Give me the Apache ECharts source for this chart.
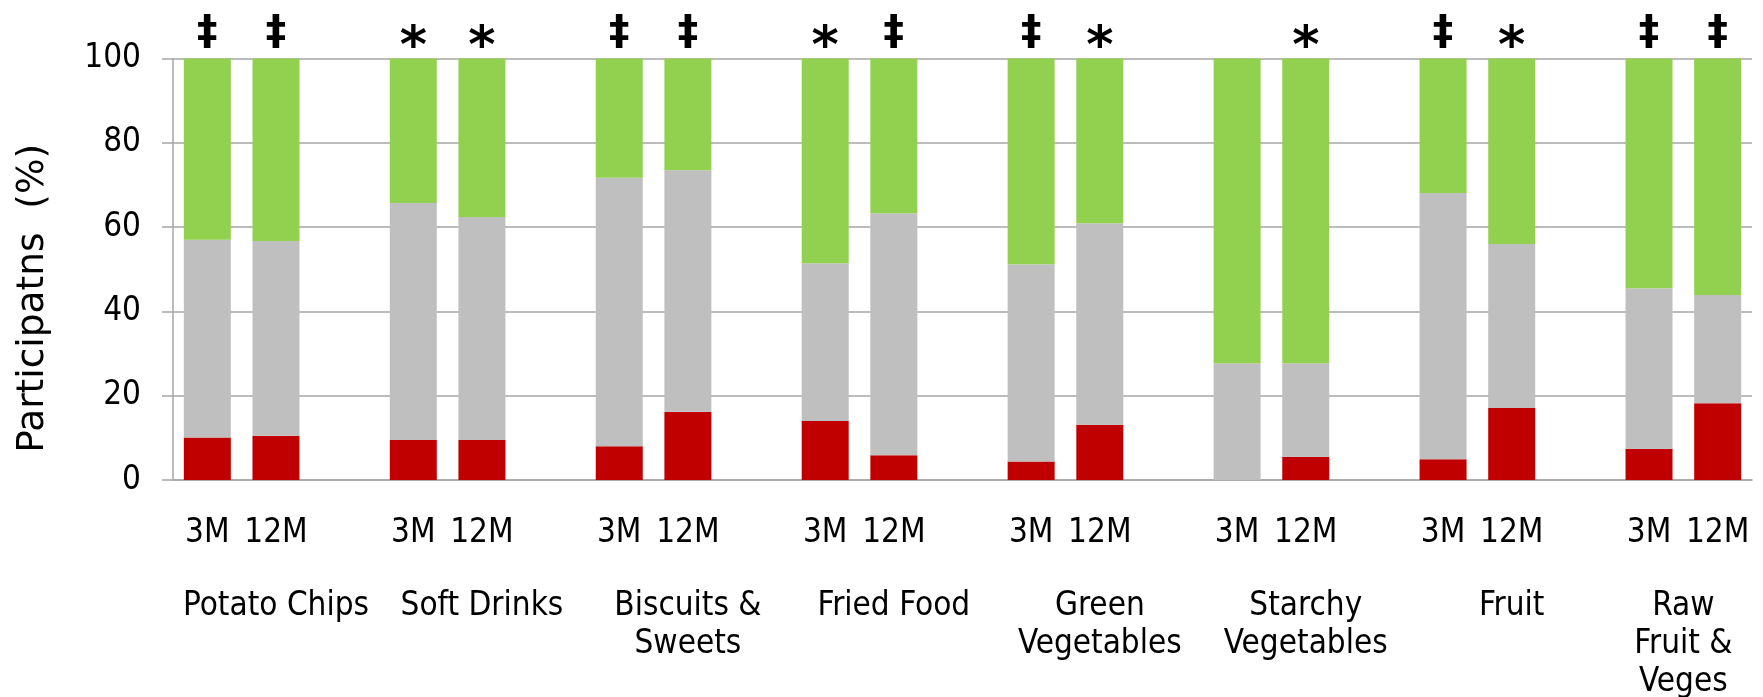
<!DOCTYPE html>
<html>
<head>
<meta charset="utf-8">
<script src="https://cdn.jsdelivr.net/npm/echarts@6/dist/echarts.min.js"></script>
<style>
  html, body { margin: 0; padding: 0; background: #fff; }
  #main { width: 1763px; height: 697px; }
</style>
</head>
<body>
<div id="main"></div>
<script>
  // food groups (\n = line break in axis label)
  var groups = ['Potato Chips', 'Soft Drinks', 'Biscuits &\nSweets', 'Fried Food',
    'Green\nVegetables', 'Starchy\nVegetables', 'Fruit', 'Raw\nFruit &\nVeges']
  var periods = ['3M', '12M']
  var yTicks = [0, 20, 40, 60, 80, 100]

  // participants (%) per segment, bottom to top
  var red3M = [10.1, 9.5, 8.0, 14.0, 4.4, 0, 4.9, 7.4]
  var red12M = [10.5, 9.5, 16.2, 5.9, 13.1, 5.5, 17.1, 18.2]
  var gray3M = [46.9, 56.2, 63.7, 37.4, 46.8, 27.7, 63.2, 38.1]
  var gray12M = [46.2, 52.9, 57.3, 57.4, 47.8, 22.2, 38.9, 25.7]
  var green3M = [43.0, 34.3, 28.3, 48.6, 48.8, 72.3, 31.9, 54.5]
  var green12M = [43.3, 37.6, 26.5, 36.7, 39.1, 72.3, 44.0, 56.1]

  // significance markers above each bar
  var mark3M = ['‡', '*', '‡', '*', '‡', '', '‡', '‡']
  var mark12M = ['‡', '*', '‡', '‡', '*', '*', '*', '‡']

  // one slot per bar, blank slot between groups
  var slotLabels = []
  var redData = [], grayData = [], greenData = [], markData = []
  groups.forEach(function (g, i) {
    slotLabels.push(periods[0], periods[1])
    redData.push(red3M[i], red12M[i])
    grayData.push(gray3M[i], gray12M[i])
    greenData.push(green3M[i], green12M[i])
    markData.push(mark3M[i], mark12M[i])
    if (i < groups.length - 1) {
      slotLabels.push('')
      redData.push('-'); grayData.push('-'); greenData.push('-'); markData.push('')
    }
  })

  // group names on a half-slot axis, centred over their slots
  var halfLabels = []
  for (var k = 0; k <= slotLabels.length * 2; k++) halfLabels.push('')
  groups.forEach(function (g, i) {
    var start = i * 3
    var end = Math.min(start + 2, slotLabels.length - 1)
    halfLabels[start + end + 1] = g
  })

  var font = 'DejaVu Sans'
  var narrow = '"DejaVu Sans Condensed", "DejaVu Sans"'
  var gridColor = '#a6a6a6'

  var chart = echarts.init(document.getElementById('main'))
  chart.setOption({
    animation: false,
    textStyle: { fontFamily: font },
    grid: {
      left: 173,
      right: 11,
      top: 58.5,
      bottom: 217,
      containLabel: false,
      outerBoundsMode: 'none'
    },
    xAxis: [
      {
        type: 'category',
        data: slotLabels,
        axisLine: { show: true, lineStyle: { color: gridColor, width: 1.5 } },
        axisTick: { show: false },
        axisLabel: {
          interval: 0,
          margin: 37,
          color: '#000',
          fontSize: 33,
          fontFamily: narrow
        }
      },
      {
        type: 'category',
        position: 'bottom',
        boundaryGap: false,
        data: halfLabels,
        axisLine: { show: false },
        axisTick: { show: false },
        splitLine: { show: false },
        axisLabel: {
          interval: 0,
          margin: 107,
          color: '#000',
          fontSize: 33,
          lineHeight: 38,
          fontFamily: narrow
        }
      }
    ],
    yAxis: {
      type: 'value',
      min: yTicks[0],
      max: yTicks[yTicks.length - 1],
      interval: 20,
      name: 'Participatns  (%)',
      nameLocation: 'middle',
      nameGap: 121,
      nameRotate: 90,
      nameTextStyle: {
        color: '#000',
        fontSize: 37.5,
        fontFamily: font,
        padding: [0, 58, 0, 0]
      },
      axisLine: { show: true, lineStyle: { color: gridColor, width: 1.5 } },
      axisTick: { show: true, length: 11, lineStyle: { color: gridColor, width: 1.5 } },
      axisLabel: {
        margin: 32,
        color: '#000',
        fontSize: 33,
        fontFamily: narrow
      },
      splitLine: { show: true, lineStyle: { color: gridColor, width: 1.5 } }
    },
    series: [
      {
        name: 'red',
        type: 'bar',
        stack: 'all',
        barWidth: 47,
        itemStyle: { color: '#c00000' },
        data: redData
      },
      {
        name: 'gray',
        type: 'bar',
        stack: 'all',
        barWidth: 47,
        itemStyle: { color: '#bfbfbf' },
        data: grayData
      },
      {
        name: 'green',
        type: 'bar',
        stack: 'all',
        barWidth: 47,
        itemStyle: { color: '#92d050' },
        label: {
          show: true,
          position: 'top',
          distance: 8,
          formatter: function (p) {
            var m = markData[p.dataIndex]
            if (m === '*') return '{s|*}'
            if (m) return '{d|' + m + '}'
            return ''
          },
          rich: {
            s: { fontSize: 52, fontWeight: 'bold', lineHeight: 4, color: '#000', fontFamily: font },
            d: { fontSize: 41, fontWeight: 'bold', lineHeight: 34, color: '#000', fontFamily: font }
          }
        },
        data: greenData
      }
    ]
  })
</script>
</body>
</html>
